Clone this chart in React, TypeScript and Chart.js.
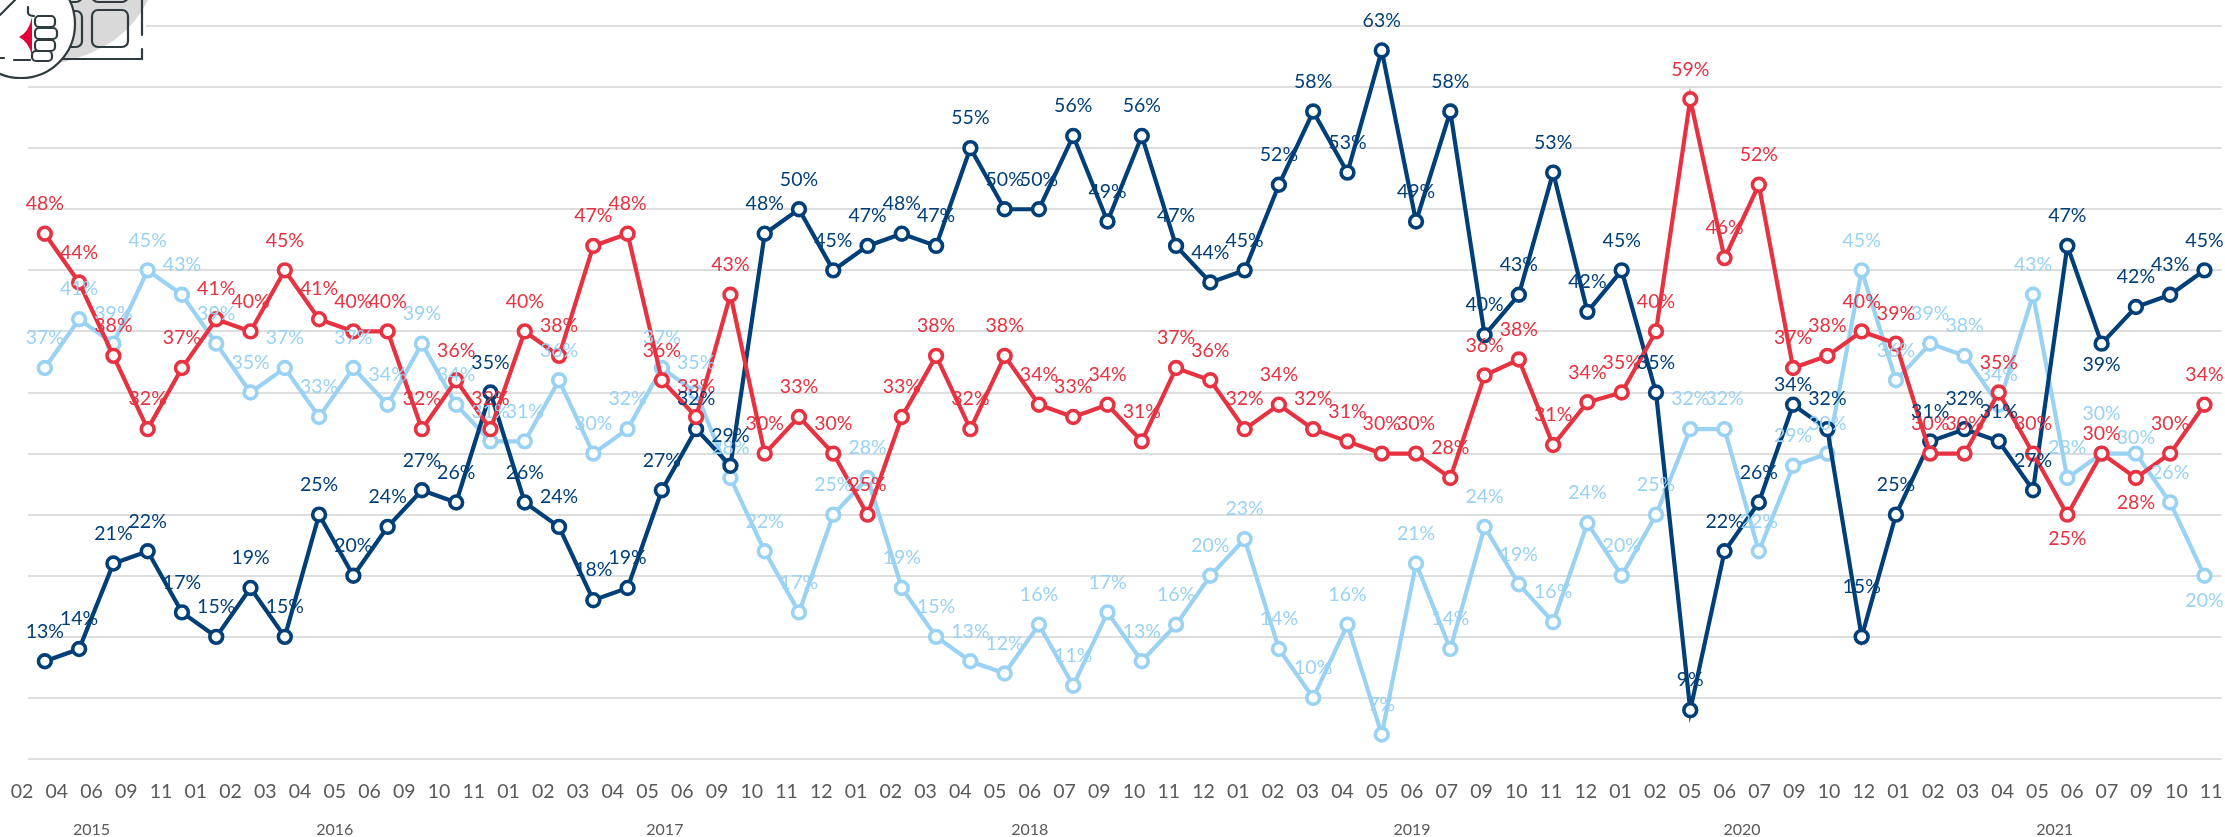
import React, { useEffect, useRef } from "react";
import { Chart, registerables } from "chart.js";

Chart.register(...registerables);

const monthLabels = [
  "02","04","06","09","11",
  "01","02","03","04","05","06","09","10","11",
  "01","02","03","04","05","06","09","10","11","12",
  "01","02","03","04","05","06","07","09","10","11","12",
  "01","02","03","04","05","06","07","09","10","11","12",
  "01","02","05","06","07","09","10","12",
  "01","02","03","04","05","06","07","09","10","11",
];
const yearLabels = ["2015","2016","2017","2018","2019","2020","2021"];
const yearCounts = [5, 9, 10, 11, 11, 8, 10];

const redValues = [
  48,44,38,32,37,41,40,45,41,40,40,32,36,32,40,38,47,48,36,33,43,30,33,30,25,33,38,32,38,34,33,34,31,37,36,32,34,32,31,30,30,28,
  36.4,37.7,30.7,34.2,35,40,59,46,52,37,38,40,39,30,30,35,30,25,30,28,30,34,
];
const navyValues = [
  13,14,21,22,17,15,19,15,25,20,24,27,26,35,26,24,18,19,27,32,29,48,50,45,47,48,47,55,50,50,56,49,56,47,44,45,52,58,53,63,49,58,
  39.7,43,53,41.6,45,35,9,22,26,34,32,15,25,31,32,31,27,47,39,42,43,45,
];
const lightValues = [
  37,41,39,45,43,39,35,37,33,37,34,39,34,31,31,36,30,32,37,35,28,22,17,25,28,19,15,13,12,16,11,17,13,16,20,23,14,10,16,7,21,14,
  24,19.3,16.2,24.3,20,25,32,32,22,29,30,45,36,39,38,34,43,28,30,30,26,20,
];

const RED = "#E63241";
const NAVY = "#003F77";
const LIGHT = "#9AD2F3";
const GRID = "#DEDEDE";
const TICK = "#595959";
const LABEL_FONT = "19.5px Lato";

// Vertical label offset from the point (px, + = above); everything else sits 30px above.
const labelLift: Record<string, Record<number, number>> = {
  [RED]: { 59: -24, 61: -25, 60: 20 },
  [NAVY]: { 60: -21, 53: 50, 51: 20 },
  [LIGHT]: { 63: -25, 60: 40, 61: 16 },
};

const pointLabels = {
  id: "pointLabels",
  afterDatasetsDraw(chart: any) {
    const { ctx } = chart;
    ctx.save();
    ctx.font = LABEL_FONT;
    ctx.textAlign = "center";
    ctx.textBaseline = "middle";
    [2, 0, 1].forEach((d) => {
      const ds = chart.data.datasets[d];
      const meta = chart.getDatasetMeta(d);
      ctx.fillStyle = ds.borderColor;
      meta.data.forEach((pt: any, i: number) => {
        const lift = labelLift[ds.borderColor][i] ?? 30;
        ctx.fillText(`${Math.round(ds.data[i])}%`, pt.x, pt.y - lift);
      });
    });
    ctx.restore();
  },
};

const cornerIcon = {
  id: "cornerIcon",
  afterDraw(chart: any) {
    const { ctx } = chart;
    const ink = "#2F3B3F";
    ctx.save();
    ctx.fillStyle = "#FFFFFF";
    ctx.fillRect(0, 0, 146, 84);
    ctx.fillStyle = "#D9D9D9";
    ctx.beginPath();
    ctx.moveTo(40, 0);
    ctx.lineTo(148, 0);
    ctx.quadraticCurveTo(125, 48, 60, 63);
    ctx.closePath();
    ctx.fill();
    ctx.strokeStyle = ink;
    ctx.lineWidth = 2.2;
    ctx.lineCap = "round";
    const rr = (x: number, y: number, w: number, h: number, r: number) => {
      ctx.beginPath();
      ctx.roundRect(x, y, w, h, r);
      ctx.stroke();
    };
    rr(92, 10, 36, 37, 6);
    rr(40, 11, 42, 36, 6);
    rr(92, -30, 36, 32, 6);
    rr(40, -30, 42, 32, 6);
    ctx.beginPath();
    ctx.moveTo(142, 0);
    ctx.lineTo(142, 35);
    ctx.moveTo(142, 49);
    ctx.lineTo(142, 59);
    ctx.lineTo(58, 59);
    ctx.stroke();
    ctx.fillStyle = "#FFFFFF";
    ctx.beginPath();
    ctx.arc(21, 24, 54, 0, Math.PI * 2);
    ctx.fill();
    ctx.stroke();
    ctx.beginPath();
    ctx.moveTo(0, 15);
    ctx.lineTo(15, 0);
    ctx.moveTo(0, 58);
    ctx.lineTo(4, 58);
    ctx.moveTo(14, 60);
    ctx.lineTo(30, 60);
    ctx.moveTo(28, 7);
    ctx.lineTo(28, 13);
    ctx.quadraticCurveTo(29, 16, 34, 16);
    ctx.stroke();
    ctx.fillStyle = "#E4003A";
    ctx.beginPath();
    ctx.moveTo(32, 17);
    ctx.quadraticCurveTo(29, 32, 19, 37);
    ctx.quadraticCurveTo(29, 42, 32, 56);
    ctx.closePath();
    ctx.fill();
    ctx.fillStyle = "#FFFFFF";
    [[35, 16, 20, 11],[35, 28, 22, 11],[35, 40, 20, 11],[32, 51, 20, 10]].forEach(([x, y, w, h]) => {
      ctx.beginPath();
      ctx.roundRect(x, y, w, h, 4);
      ctx.fill();
      ctx.stroke();
    });
    ctx.restore();
  },
};

const series = (label: string, data: number[], color: string) => ({
  label,
  data,
  borderColor: color,
  backgroundColor: "#FFFFFF",
  borderWidth: 4.2,
  pointBackgroundColor: "#FFFFFF",
  pointBorderColor: color,
  pointBorderWidth: 3.6,
  pointRadius: 6.4,
  tension: 0,
});

// Month and year ticks have their own spacing, slightly wider than the points'.
const TICK_MIN = 0.164;
const TICK_MAX = 63.3;
const yearCentres = yearCounts.map((n, i) => {
  const start = yearCounts.slice(0, i).reduce((a, b) => a + b, 0);
  return start + (n - 1) / 2;
});

const noSideMargins = (s: any) => {
  s.paddingLeft = 0;
  s.paddingRight = 0;
};

export default function App() {
  const ref = useRef<HTMLCanvasElement>(null);
  useEffect(() => {
    const chart = new Chart(ref.current as HTMLCanvasElement, {
      type: "line",
      data: {
        labels: monthLabels.map((m, i) => `${i}-${m}`),
        datasets: [
          series("Red", redValues, RED),
          series("Navy", navyValues, NAVY),
          series("Light", lightValues, LIGHT),
        ],
      },
      plugins: [pointLabels, cornerIcon],
      options: {
        responsive: false,
        animation: false,
        layout: { autoPadding: false, padding: { left: 27.7, right: 3.4, top: 26, bottom: 0 } },
        plugins: { legend: { display: false }, tooltip: { enabled: false } },
        scales: {
          x: { type: "category", offset: true, display: false },
          months: {
            type: "linear",
            axis: "x",
            position: "bottom",
            weight: 2,
            min: TICK_MIN,
            max: TICK_MAX,
            grid: { display: false, drawTicks: false },
            border: { display: false },
            afterBuildTicks: (s: any) => { s.ticks = monthLabels.map((_, i) => ({ value: i })); },
            afterFit: (s: any) => { s.height = 42; noSideMargins(s); },
            ticks: {
              autoSkip: false,
              maxRotation: 0,
              padding: 21,
              color: TICK,
              font: { family: "Lato", size: 19.5 },
              callback: (_v: any, i: number) => monthLabels[i],
            },
          },
          years: {
            type: "linear",
            axis: "x",
            position: "bottom",
            weight: 3,
            min: TICK_MIN,
            max: TICK_MAX,
            grid: { display: false, drawTicks: false },
            border: { display: false },
            afterBuildTicks: (s: any) => { s.ticks = yearCentres.map((value) => ({ value })); },
            afterFit: (s: any) => { s.height = 36; noSideMargins(s); },
            ticks: {
              autoSkip: false,
              maxRotation: 0,
              padding: 19,
              color: TICK,
              font: { family: "Lato", size: 16 },
              callback: (_v: any, i: number) => yearLabels[i],
            },
          },
          y: {
            min: 5,
            max: 65,
            display: true,
            border: { display: false },
            grid: { color: GRID, lineWidth: 2, drawTicks: false },
            afterBuildTicks: (s: any) => { s.ticks = [5,10,15,20,25,30,35,40,45,50,55,60,65].map((value) => ({ value })); },
            afterFit: (s: any) => { s.width = 0; },
            ticks: { display: false, padding: 0 },
          },
        },
      },
    } as any);
    return () => chart.destroy();
  }, []);
  return (
    <div style={{ position: "absolute", left: 0, top: 0 }}>
      <canvas ref={ref} width={2225} height={837} style={{ display: "block" }} />
    </div>
  );
}
